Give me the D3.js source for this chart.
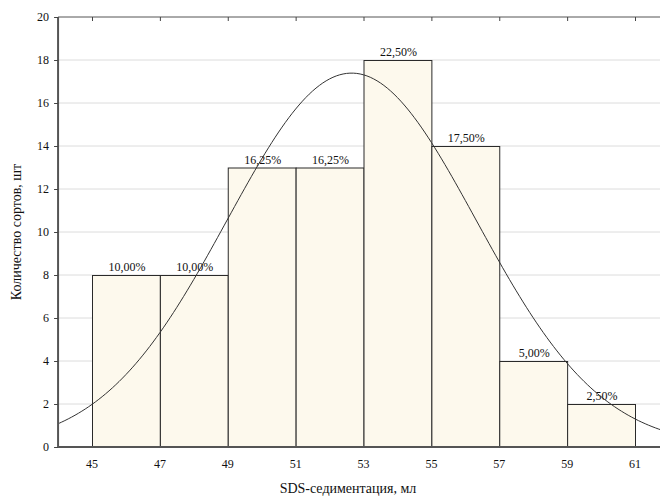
<!DOCTYPE html>
<html>
<head>
<meta charset="utf-8">
<script src="https://cdn.jsdelivr.net/npm/d3@7"></script>
<style>
  body { margin: 0; background: #fff; }
  text { font-family: 'Liberation Serif', 'Times New Roman', serif; fill: #111; }
</style>
</head>
<body>
<svg id="chart" width="660" height="497"></svg>
<script>
// histogram bins (left edge, right edge) and counts
const binStarts = [45, 47, 49, 51, 53, 55, 57, 59]
const binEnds = [47, 49, 51, 53, 55, 57, 59, 61]
const counts = [8, 8, 13, 13, 18, 14, 4, 2]
const percentLabels = ['10,00%', '10,00%', '16,25%', '16,25%', '22,50%', '17,50%', '5,00%', '2,50%']
const xTicks = [45, 47, 49, 51, 53, 55, 57, 59, 61]
const yTicks = [0, 2, 4, 6, 8, 10, 12, 14, 16, 18, 20]
// fitted normal curve, parameters
const fitMean = 52.65
const fitSd = 3.67
const totalCount = 80
const binWidth = 2

const svg = d3.select('#chart')

const x = d3.scaleLinear().domain([45, 61]).range([92, 635])
const y = d3.scaleLinear().domain([0, 20]).range([447, 17])
const left = x(44)
const right = 662

svg.append('defs').append('clipPath').attr('id', 'plot')
  .append('rect')
    .attr('x', left).attr('y', y(20))
    .attr('width', right - left).attr('height', y(0) - y(20))

// grid
svg.append('g')
  .selectAll('line')
  .data(yTicks.filter(d => d > 0 && d < 20))
  .join('line')
    .attr('x1', left).attr('x2', right)
    .attr('y1', d => y(d)).attr('y2', d => y(d))
    .attr('stroke', '#dcdcdc')
    .attr('stroke-width', 1)

// bars
const data = binStarts.map((s, i) => ({ s, e: binEnds[i], c: counts[i], label: percentLabels[i] }))

svg.append('g')
  .selectAll('rect')
  .data(data)
  .join('rect')
    .attr('x', d => x(d.s) + 0.5)
    .attr('y', d => y(d.c) + 0.5)
    .attr('width', d => x(d.e) - x(d.s))
    .attr('height', d => y(0) - y(d.c))
    .attr('fill', '#fdf9ed')
    .attr('stroke', '#2a2a2a')
    .attr('stroke-width', 1)

// percentage labels
svg.append('g')
  .selectAll('text')
  .data(data)
  .join('text')
    .attr('x', d => (x(d.s) + x(d.e)) / 2 + 1)
    .attr('y', d => y(d.c) - 4)
    .attr('text-anchor', 'middle')
    .attr('font-size', 12)
    .text(d => d.label)

// normal curve
const curvePts = d3.range(44, 62.01, 0.1).map(v => {
  const z = (v - fitMean) / fitSd
  return [v, totalCount * binWidth * Math.exp(-0.5 * z * z) / (fitSd * Math.sqrt(2 * Math.PI))]
})
svg.append('path')
  .datum(curvePts)
  .attr('clip-path', 'url(#plot)')
  .attr('fill', 'none')
  .attr('stroke', '#333')
  .attr('stroke-width', 1)
  .attr('d', d3.line().x(d => x(d[0])).y(d => y(d[1])).curve(d3.curveBasis))

// axes frame
svg.append('line')
  .attr('x1', left).attr('x2', right).attr('y1', y(20)).attr('y2', y(20))
  .attr('stroke', '#555').attr('stroke-width', 1)
svg.append('line')
  .attr('x1', left).attr('x2', right).attr('y1', y(0)).attr('y2', y(0))
  .attr('stroke', '#555').attr('stroke-width', 2)
svg.append('line')
  .attr('x1', left).attr('x2', left).attr('y1', y(20)).attr('y2', y(0) + 1)
  .attr('stroke', '#555').attr('stroke-width', 2)

// top ticks
svg.append('g')
  .selectAll('line')
  .data(xTicks)
  .join('line')
    .attr('x1', d => x(d) + 0.5).attr('x2', d => x(d) + 0.5)
    .attr('y1', y(20)).attr('y2', y(20) + 4)
    .attr('stroke', '#444')

// y ticks and labels
const yAxis = svg.append('g')
yAxis.selectAll('line')
  .data(yTicks)
  .join('line')
    .attr('x1', left - 4).attr('x2', left)
    .attr('y1', d => y(d) + 0.5).attr('y2', d => y(d) + 0.5)
    .attr('stroke', '#444')
yAxis.selectAll('text')
  .data(yTicks)
  .join('text')
    .attr('x', left - 9)
    .attr('y', d => y(d) + 4)
    .attr('text-anchor', 'end')
    .attr('font-size', 12)
    .text(d => d)

// x tick labels
svg.append('g')
  .selectAll('text')
  .data(xTicks)
  .join('text')
    .attr('x', d => x(d))
    .attr('y', 468)
    .attr('text-anchor', 'middle')
    .attr('font-size', 12)
    .text(d => d)

// axis titles
svg.append('text')
  .attr('x', 348).attr('y', 493)
  .attr('text-anchor', 'middle')
  .attr('font-size', 14)
  .text('SDS-седиментация, мл')

svg.append('text')
  .attr('transform', 'translate(21,232) rotate(-90)')
  .attr('text-anchor', 'middle')
  .attr('font-size', 14)
  .text('Количество сортов, шт')
</script>
</body>
</html>
